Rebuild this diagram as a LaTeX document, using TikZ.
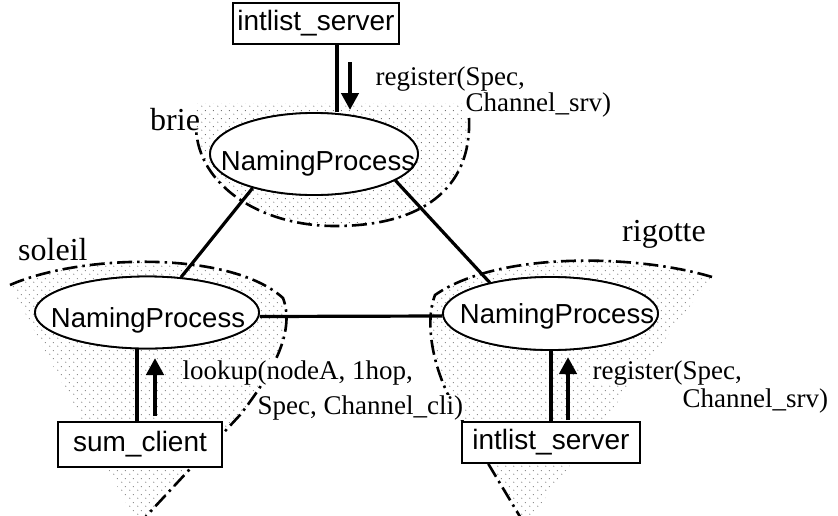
\documentclass[tikz,border=0pt]{standalone}
\usepackage{fontspec}
\setmainfont{Liberation Serif}
\newfontfamily\procfont{Liberation Sans}
\usetikzlibrary{arrows.meta,patterns.meta,shapes.geometric}

% fine dot screen used for the host areas
\tikzdeclarepattern{
  name=stipple,
  type=uncolored,
  bounding box={(0pt,0pt) and (8pt,8pt)},
  tile size={(8pt,8pt)},
  code={
    \fill (2pt,2pt) circle (0.6pt);
    \fill (6pt,6pt) circle (0.6pt);
  }
}

\begin{document}
\begin{tikzpicture}[x=1pt,y=-1pt,
  region/.style={pattern=stipple, pattern color=black!60},
  boundary/.style={line width=2.6pt, dash pattern=on 15pt off 5pt on 2.5pt off 5pt},
  conn/.style={line width=3.2pt},
  proc/.style={draw, line width=1.8pt, fill=white, ellipse, inner sep=0pt},
  procname/.style={font=\procfont\fontsize{27.5}{30}\selectfont, inner sep=0pt, anchor=base},
  prog/.style={draw, line width=1.5pt, fill=white, inner sep=0pt,
    font=\procfont\fontsize{28}{30}\selectfont},
  host/.style={font=\fontsize{32}{36}\selectfont, inner sep=0pt, anchor=base west},
  msg/.style={font=\fontsize{27}{30}\selectfont, inner sep=0.5pt, fill=white, anchor=base west},
  call/.style={line width=4.8pt, -{Triangle[length=17pt,width=17pt]}},
]
\clip (0,0) rectangle (838,515);

% host areas
\fill[region] (195,103) -- (470,103) -- (469,118)
  .. controls (472,190) and (420,226) .. (335,226)
  .. controls (260,226) and (198,185) .. (196,128) -- cycle;
\draw[boundary] (469,118)
  .. controls (472,190) and (420,226) .. (335,226)
  .. controls (260,226) and (198,185) .. (196,128);

\fill[region] (10,285) .. controls (80,254) and (230,250) .. (283,298)
  .. controls (295,330) and (275,370) .. (240,415) -- (138,525) -- cycle;
\draw[boundary] (10,285) .. controls (80,254) and (230,250) .. (283,298)
  .. controls (295,330) and (275,370) .. (240,415) -- (138,525);

\fill[region] (712,277) .. controls (640,255) and (500,250) .. (435,295)
  .. controls (425,320) and (430,370) .. (462,420) -- (525,525) -- cycle;
\draw[boundary] (712,277) .. controls (640,255) and (500,250) .. (435,295)
  .. controls (425,320) and (430,370) .. (462,420) -- (525,525);

% host names
\node[host] (brie) at (150,130) {brie};
\node[host] (soleil) at (18,260) {soleil};
\node[host] (rigotte) at (622,241) {rigotte};

% naming processes (outlines only; names are set on top later)
\node[proc, minimum width=208pt, minimum height=82pt] (nptop) at (314,154) {};
\node[proc, minimum width=224pt, minimum height=72pt] (npleft) at (147,312.5) {};
\node[proc, minimum width=215pt, minimum height=73pt] (npright) at (550.5,313.5) {};

% application programs
\node[prog, minimum width=166pt, minimum height=41pt] (srvtop) at (316,23.5) {intlist\_server};
\node[prog, minimum width=164pt, minimum height=45pt] (client) at (140,444.5) {sum\_client};
\node[prog, minimum width=178pt, minimum height=41pt] (srvright) at (551,442.5) {intlist\_server};

% links between the naming processes
\draw[conn] (nptop.209) -- (npleft.46);
\draw[conn] (nptop.342) -- (npright.153);
\draw[conn] ([yshift=-4pt]npleft.east) -- ([yshift=-2.5pt]npright.west);

% links between programs and their naming process
\draw[conn] ([xshift=21pt]srvtop.south) -- ([xshift=21pt]srvtop.south |- nptop.north);
\draw[conn] ([xshift=-3pt]client.north) -- ([xshift=-3pt]client.north |- npleft.south);
\draw[conn] (srvright.north) -- (srvright.north |- npright.south);

% redraw the process ellipses over the link ends, then their names
\node[proc, minimum width=208pt, minimum height=82pt] (nptopfront) at (nptop) {};
\node[proc, minimum width=224pt, minimum height=72pt] (npleftfront) at (npleft) {};
\node[proc, minimum width=215pt, minimum height=73pt] (nprightfront) at (npright) {};
\node[procname] (nptoptext) at (318,170) {NamingProcess};
\node[procname] (nplefttext) at (148,327) {NamingProcess};
\node[procname] (nprighttext) at (557,323) {NamingProcess};

% message arrows
\coordinate (regtopA) at (350,62);
\coordinate (regtopB) at (350,110);
\coordinate (lookupA) at (155,416);
\coordinate (lookupB) at (155,358);
\coordinate (regrightA) at (568,420);
\coordinate (regrightB) at (568,357);
\draw[call] (regtopA) -- (regtopB);
\draw[call] (lookupA) -- (lookupB);
\draw[call] (regrightA) -- (regrightB);

% message labels
\node[msg] (regtop1) at (375,85) {register(Spec,};
\node[msg] (regtop2) at (465,111) {Channel\_srv)};
\node[msg] (lookup1) at (182,379) {lookup(nodeA, 1hop,};
\node[msg] (lookup2) at (257,414) {Spec, Channel\_cli)};
\node[msg] (regright1) at (592,379) {register(Spec,};
\node[msg] (regright2) at (682,407) {Channel\_srv)};
\end{tikzpicture}
\end{document}
